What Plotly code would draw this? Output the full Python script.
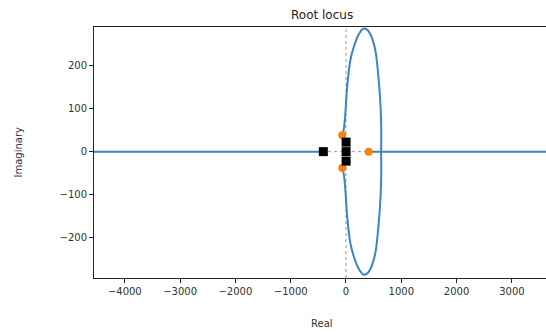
import plotly.graph_objects as go

# Root-locus branch through the right half plane (upper and lower halves)
upper_re = [-67, -40, -20, -5, 15, 42, 80, 132, 222, 313, 380, 434, 524, 584, 627, 638, 635]
upper_im = [38, 52, 75, 100, 140, 177, 213, 239, 270, 285, 283, 274, 239, 177, 100, 45, 0]
lower_re = [-67, -40, -20, -5, 15, 42, 80, 132, 222, 313, 380, 434, 524, 584, 627, 638, 635]
lower_im = [-38, -52, -75, -100, -140, -177, -213, -239, -270, -285, -283, -274, -239, -177, -100, -45, 0]

# Branches along the real axis
left_re = [-4600, -410]
left_im = [0, 0]
right_re = [410, 3700]
right_im = [0, 0]

# Open-loop poles and zeros
pole_re = [-410, 2, 2, 2]
pole_im = [0, 22, 0, -22]
zero_re = [-67, -67, 410]
zero_im = [38, -38, 0]

x_range = [-4557, 3617]
y_range = [-293, 289]
x_ticks = [-4000, -3000, -2000, -1000, 0, 1000, 2000, 3000]
y_ticks = [-200, -100, 0, 100, 200]

blue = "#3a86c0"
line = dict(color=blue, width=2)

fig = go.Figure()
fig.add_trace(go.Scatter(x=upper_re, y=upper_im, mode="lines",
                         line=dict(color=blue, width=2, shape="spline", smoothing=1)))
fig.add_trace(go.Scatter(x=lower_re, y=lower_im, mode="lines",
                         line=dict(color=blue, width=2, shape="spline", smoothing=1)))
fig.add_trace(go.Scatter(x=left_re, y=left_im, mode="lines", line=line))
fig.add_trace(go.Scatter(x=right_re, y=right_im, mode="lines", line=line))
fig.add_trace(go.Scatter(x=zero_re, y=zero_im, mode="markers",
                         marker=dict(color="#ff7f0e", size=8, symbol="circle")))
fig.add_trace(go.Scatter(x=pole_re, y=pole_im, mode="markers",
                         marker=dict(color="black", size=9, symbol="square")))

# Dotted axes through the origin
fig.add_shape(type="line", xref="x", yref="paper", x0=0, x1=0, y0=0, y1=1,
              line=dict(color="#999999", width=1, dash="dot"), layer="below")
fig.add_shape(type="line", xref="paper", yref="y", x0=0, x1=1, y0=0, y1=0,
              line=dict(color="#999999", width=1, dash="dot"), layer="below")

font = dict(family="DejaVu Sans", size=10, color="#333333")
fig.update_layout(
    width=546, height=332,
    margin=dict(l=94, r=0, t=27, b=54),
    paper_bgcolor="white", plot_bgcolor="white",
    showlegend=False,
    font=font,
    xaxis=dict(range=x_range, tickvals=x_ticks, showgrid=False, zeroline=False,
               showline=True, linecolor="#222222", linewidth=1, mirror=True,
               ticks="outside", ticklen=4, tickcolor="#222222", tickfont=font),
    yaxis=dict(range=y_range, tickvals=y_ticks, showgrid=False, zeroline=False,
               showline=True, linecolor="#222222", linewidth=1, mirror=False,
               ticks="outside", ticklen=4, tickcolor="#222222", tickfont=font),
    annotations=[
        dict(text="Root locus", xref="paper", yref="paper", x=0.504, y=1.0,
             yshift=12, showarrow=False, font=dict(family="DejaVu Sans", size=12, color="#222222"),
             xanchor="center", yanchor="middle"),
        dict(text="Real", xref="paper", yref="paper", x=0.504, y=0, yshift=-45,
             showarrow=False, font=font, xanchor="center", yanchor="middle"),
        dict(text="Imaginary", xref="paper", yref="paper", x=0, xshift=-76, y=0.5,
             showarrow=False, font=font, textangle=-90, xanchor="center", yanchor="middle"),
    ],
)

fig.write_html("out.html")
